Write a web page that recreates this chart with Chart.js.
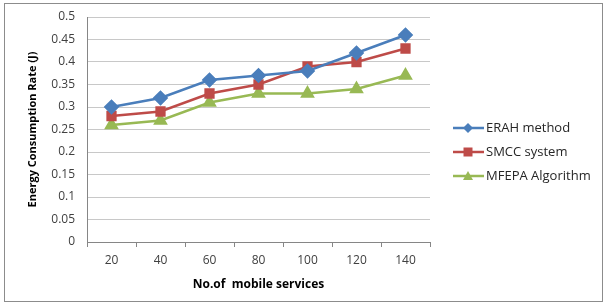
<!DOCTYPE html>
<html><head><meta charset="utf-8">
<script src="https://cdn.jsdelivr.net/npm/chart.js@4/dist/chart.umd.min.js"></script>
<style>html,body{margin:0;padding:0;background:#fff}#wrap{width:605px;height:304px;position:relative}</style>
</head><body><div id="wrap"><canvas id="c" width="605" height="304"></canvas></div>
<script>
const categories = ['20','40','60','80','100','120','140'];
const erah = [0.30,0.32,0.36,0.37,0.38,0.42,0.46];
const smcc = [0.28,0.29,0.33,0.35,0.39,0.40,0.43];
const mfepa = [0.26,0.27,0.31,0.33,0.33,0.34,0.37];
const seriesNames = ['ERAH method','SMCC system','MFEPA Algorithm'];
const FONT = "'Open Sans', sans-serif";

const legendPlugin = {
  id:'customLegend',
  afterDraw(chart){
    const ctx = chart.ctx;
    ctx.save();
    ctx.strokeStyle = '#8c8c8c'; ctx.lineWidth = 1;
    ctx.strokeRect(4.5,3.5,598,298);
    const ys = [128,152,176];
    chart.data.datasets.forEach((ds,i)=>{
      const y = ys[i];
      ctx.strokeStyle = ds.borderColor; ctx.lineWidth = 2.5;
      ctx.beginPath(); ctx.moveTo(453,y); ctx.lineTo(484,y); ctx.stroke();
      ctx.fillStyle = ds.backgroundColor;
      const x=468;
      ctx.beginPath();
      if(ds.pointStyle==='rectRot'){ctx.moveTo(x,y-5);ctx.lineTo(x+5,y);ctx.lineTo(x,y+5);ctx.lineTo(x-5,y);}
      else if(ds.pointStyle==='rect'){ctx.rect(x-4.5,y-4.5,9,9);}
      else {ctx.moveTo(x,y-5);ctx.lineTo(x+5,y+4);ctx.lineTo(x-5,y+4);}
      ctx.closePath(); ctx.fill();
      ctx.fillStyle='#262626'; ctx.font = "13px "+FONT; ctx.textBaseline='middle'; ctx.textAlign='left';
      ctx.fillText(ds.label,486,y);
    });
    ctx.restore();
  }
};

new Chart(document.getElementById('c'),{
  type:'line',
  data:{labels:categories,datasets:[
    {label:seriesNames[0],data:erah,borderColor:'#4A7EBB',backgroundColor:'#4A7EBB',pointStyle:'rectRot',pointRadius:6,borderWidth:2.5},
    {label:seriesNames[1],data:smcc,borderColor:'#BE4B48',backgroundColor:'#BE4B48',pointStyle:'rect',pointRadius:5.5,borderWidth:2.5},
    {label:seriesNames[2],data:mfepa,borderColor:'#98B954',backgroundColor:'#98B954',pointStyle:'triangle',pointRadius:6,borderWidth:2.5}
  ]},
  options:{
    responsive:false,animation:false,
    layout:{padding:{left:22,top:17,right:175,bottom:12}},
    plugins:{legend:{display:false},tooltip:{enabled:false}},
    scales:{
      x:{offset:true,
        grid:{offset:true,drawOnChartArea:false,drawTicks:true,tickLength:5,color:'#868686'},
        border:{color:'#868686'},
        ticks:{color:'#404040',font:{family:FONT,size:12},padding:6},
        title:{display:true,text:'No.of  mobile services',color:'#000',font:{family:FONT,size:12,weight:'bold'},padding:{top:4,bottom:0}},
        afterFit(s){s.height=50; s.paddingLeft=0; s.paddingRight=0;}
      },
      y:{min:0,max:0.5,
        ticks:{stepSize:0.05,color:'#404040',font:{family:FONT,size:12},padding:12,callback:v=>String(Math.round(v*100)/100)},
        grid:{color:'#c8c8c8',drawTicks:false,lineWidth:1},
        border:{color:'#868686'},
        title:{display:true,text:'Energy Consumption Rate (J)',color:'#000',font:{family:FONT,size:11,weight:'bold'},padding:{bottom:2}},
        afterFit(s){s.width=65; s.paddingTop=0; s.paddingBottom=0;}
      }
    }
  },
  plugins:[legendPlugin]
});
</script></body></html>
